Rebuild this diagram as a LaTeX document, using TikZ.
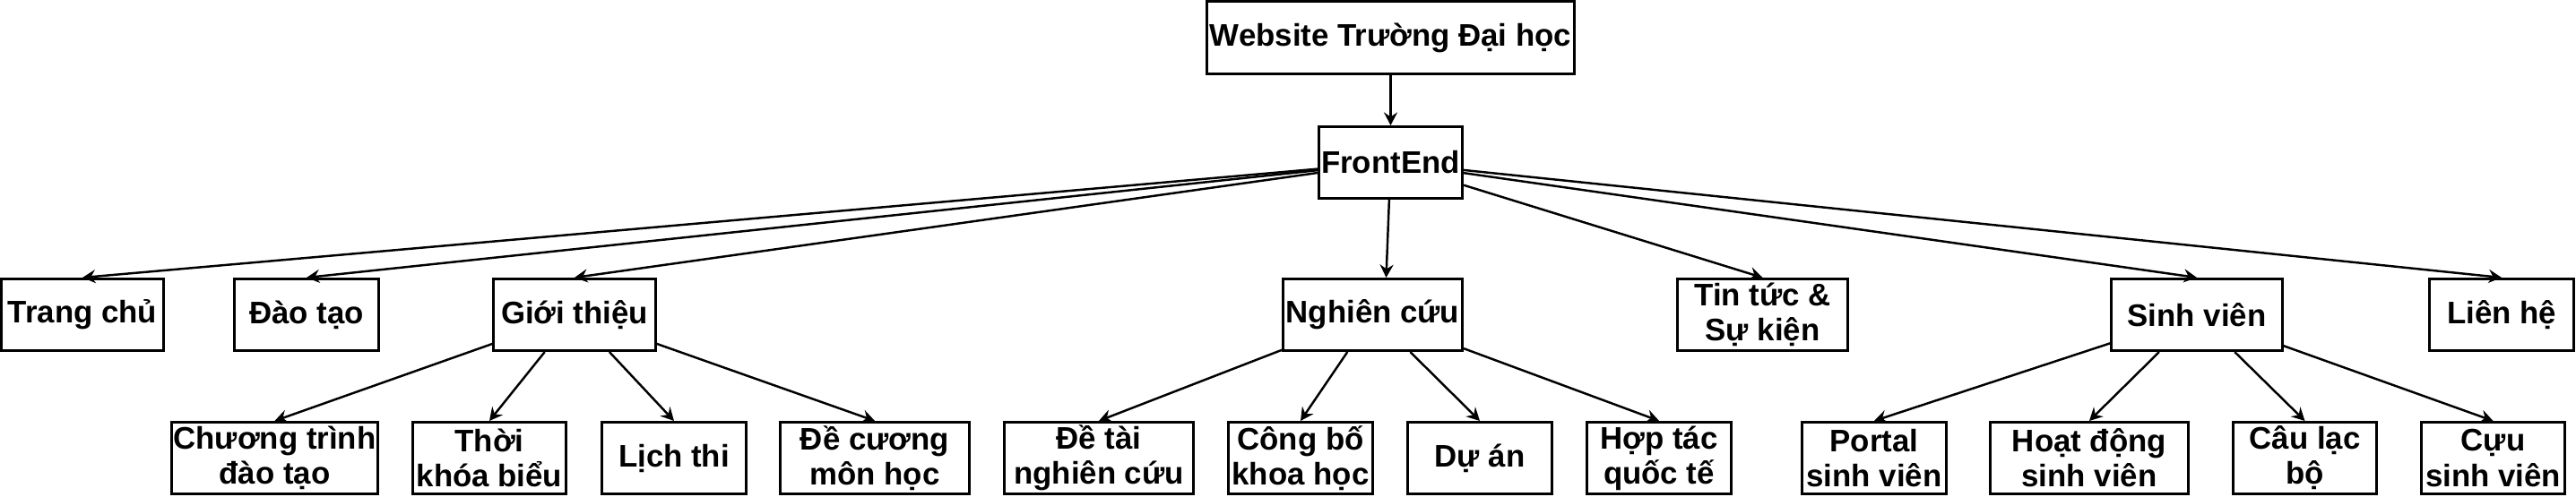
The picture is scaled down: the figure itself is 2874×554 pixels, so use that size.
\documentclass[tikz,border=0pt]{standalone}
\usepackage{fontspec}
\setmainfont{Liberation Sans}
\usetikzlibrary{arrows.meta}
\begin{document}
\begin{tikzpicture}[x=0.01cm,y=-0.01cm,
  box/.style={draw,line width=0.85pt,minimum width=#1,minimum height=0.8cm,inner sep=0pt,align=center,font=\fontsize{9.9}{11.1}\selectfont\bfseries},
  box/.default=1.6cm,
  link/.style={line width=0.7pt,-{Stealth[length=1.45mm,width=1.5mm,inset=0.5mm]}}]
\useasboundingbox (0,0) rectangle (2874,554);
\node [box=4.1cm] (web) at (1551.5,42) {Website Trường Đại học};
\node [box] (fe) at (1551.5,181.5) {FrontEnd};
\node [box=1.8cm] (tc) at (92,351.5) {Trang chủ};
\node [box] (dt) at (342,351.5) {Đào tạo};
\node [box=1.8cm] (gt) at (641,351.5) {Giới thiệu};
\node [box=2cm] (nc) at (1531.5,351.5) {Nghiên cứu};
\node [box=1.9cm] (tt) at (1966.5,351.5) {Tin tức \&\\Sự kiện};
\node [box=1.9cm] (sv) at (2451,351.5) {Sinh viên};
\node [box] (lh) at (2791,351.5) {Liên hệ};
\node [box=2.3cm] (ct) at (306.5,511.5) {Chương trình\\đào tạo};
\node [box=1.7cm] (tk) at (546,511.5) {Thời\\khóa biểu};
\node [box] (lt) at (752,511.5) {Lịch thi};
\node [box=2.1cm] (dc) at (976,511.5) {Đề cương\\môn học};
\node [box=2.1cm] (dtn) at (1226,511.5) {Đề tài\\nghiên cứu};
\node [box] (cb) at (1451,511.5) {Công bố\\khoa học};
\node [box] (da) at (1651,511.5) {Dự án};
\node [box] (ht) at (1851,511.5) {Hợp tác\\quốc tế};
\node [box] (ps) at (2091,511.5) {Portal\\sinh viên};
\node [box=2.2cm] (hd) at (2331,511.5) {Hoạt động\\sinh viên};
\node [box] (cl) at (2571.5,511.5) {Câu lạc\\bộ};
\node [box] (cs) at (2781.5,511.5) {Cựu\\sinh viên};
\draw [link] (web) -- (fe);
\draw [link] (fe) -- (tc.north);
\draw [link] (fe) -- (dt.north);
\draw [link] (fe) -- (gt.north);
\draw [link] (fe) -- ([xshift=1.5mm]nc.north);
\draw [link] (fe) -- (tt.north);
\draw [link] (fe) -- (sv.north);
\draw [link] (fe) -- (lh.north);
\draw [link] (gt) -- (ct.north);
\draw [link] (gt) -- (tk.north);
\draw [link] (gt) -- (lt.north);
\draw [link] (gt) -- (dc.north);
\draw [link] (nc) -- (dtn.north);
\draw [link] (nc) -- (cb.north);
\draw [link] (nc) -- (da.north);
\draw [link] (nc) -- (ht.north);
\draw [link] (sv) -- (ps.north);
\draw [link] (sv) -- (hd.north);
\draw [link] (sv) -- (cl.north);
\draw [link] (sv) -- (cs.north);
\end{tikzpicture}
\end{document}
